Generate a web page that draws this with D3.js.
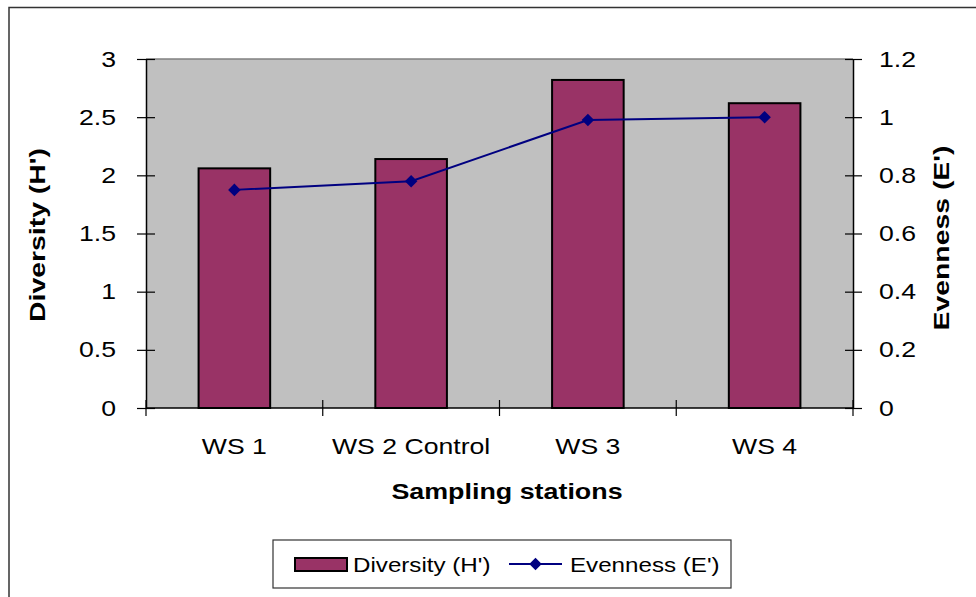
<!DOCTYPE html>
<html>
<head>
<meta charset="utf-8">
<script src="https://cdn.jsdelivr.net/npm/d3@7"></script>
<style>
  html, body { margin: 0; padding: 0; background: #fff; }
  svg { display: block; font-family: "Liberation Sans", Arial, sans-serif; }
</style>
</head>
<body>
<svg id="chart" width="976" height="597"></svg>
<script>
// Sampling stations and their diversity / evenness indices
const stations = ["WS 1", "WS 2 Control", "WS 3", "WS 4"];
const diversity = [2.06, 2.14, 2.82, 2.62];
const evenness = [0.75, 0.78, 0.99, 1.0];
const leftTicks = [0, 0.5, 1, 1.5, 2, 2.5, 3];
const rightTicks = [0, 0.2, 0.4, 0.6, 0.8, 1, 1.2];

const svg = d3.select("#chart");
const plot = { left: 146, right: 853, top: 59, bottom: 408 };

// Widen a text selection horizontally by a factor, keeping its anchor
function widen(sel, factor) {
  sel.each(function () {
    const len = this.getComputedTextLength();
    d3.select(this)
      .attr("textLength", len * factor)
      .attr("lengthAdjust", "spacingAndGlyphs");
  });
}

// Outer chart frame (runs past the right and bottom edges)
svg.append("rect")
  .attr("x", 9).attr("y", 7.5)
  .attr("width", 1000).attr("height", 700)
  .attr("fill", "#fff")
  .attr("stroke", "#333").attr("stroke-width", 1.5);

const x = d3.scaleBand().domain(stations).range([plot.left, plot.right]);
const yL = d3.scaleLinear().domain([0, 3]).range([plot.bottom, plot.top]);
const yR = d3.scaleLinear().domain([0, 1.2]).range([plot.bottom, plot.top]);

// Plot area background
svg.append("rect")
  .attr("x", plot.left).attr("y", plot.top)
  .attr("width", plot.right - plot.left).attr("height", plot.bottom - plot.top)
  .attr("fill", "#c0c0c0");
svg.append("line")
  .attr("x1", plot.left).attr("x2", plot.right)
  .attr("y1", plot.top).attr("y2", plot.top)
  .attr("stroke", "#808080").attr("stroke-width", 1.5);

// Bars
const barW = x.bandwidth() * 0.405;
svg.append("g").selectAll("rect")
  .data(stations)
  .join("rect")
  .attr("x", d => x(d) + x.bandwidth() / 2 - barW / 2)
  .attr("y", (d, i) => yL(diversity[i]))
  .attr("width", barW)
  .attr("height", (d, i) => yL(0) - yL(diversity[i]))
  .attr("fill", "#993366")
  .attr("stroke", "#000").attr("stroke-width", 2);

// Evenness line with diamond markers
const lineGen = d3.line()
  .x((d, i) => x(stations[i]) + x.bandwidth() / 2)
  .y(d => yR(d));
svg.append("path")
  .datum(evenness)
  .attr("d", lineGen)
  .attr("fill", "none")
  .attr("stroke", "#000080").attr("stroke-width", 2);
svg.append("g").selectAll("path")
  .data(evenness)
  .join("path")
  .attr("d", d3.symbol(d3.symbolDiamond2, 100))
  .attr("transform", (d, i) => `translate(${x(stations[i]) + x.bandwidth() / 2},${yR(d)})`)
  .attr("fill", "#000080");

// Axes
const tickStyle = g => {
  g.select(".domain").attr("stroke", "#000").attr("stroke-width", 1.5);
  g.selectAll(".tick line").attr("stroke", "#000").attr("stroke-width", 1.2);
  g.selectAll(".tick text").attr("fill", "#000").attr("font-size", 22)
    .attr("font-family", "'Liberation Sans', Arial, sans-serif");
};

const axL = svg.append("g")
  .attr("transform", `translate(${plot.left},0)`)
  .call(d3.axisLeft(yL).tickValues(leftTicks).tickSize(9).tickPadding(21).tickSizeOuter(0)
    .tickFormat(d3.format("")))
  .call(tickStyle);
axL.selectAll(".tick line").attr("x2", 9).attr("x1", -9);
widen(axL.selectAll(".tick text"), 1.21);

const axR = svg.append("g")
  .attr("transform", `translate(${plot.right},0)`)
  .call(d3.axisRight(yR).tickValues(rightTicks).tickSize(9).tickPadding(17).tickSizeOuter(0)
    .tickFormat(d => d === 0 ? "0" : d3.format("")(+d.toFixed(1))))
  .call(tickStyle);
axR.selectAll(".tick line").attr("x1", -8).attr("x2", 9);
widen(axR.selectAll(".tick text"), 1.21);

// Category axis: ticks sit on band boundaries
const axB = svg.append("g")
  .attr("transform", `translate(0,${plot.bottom})`)
  .call(d3.axisBottom(x).tickSize(0).tickPadding(30).tickSizeOuter(0))
  .call(tickStyle);
axB.select(".domain").attr("d", `M${plot.left},0H${plot.right}`);
widen(axB.selectAll(".tick text"), 1.21);
const bounds = stations.map(s => x(s)).concat([x(stations[stations.length - 1]) + x.bandwidth()]);
axB.selectAll(".bound")
  .data(bounds)
  .join("line")
  .attr("class", "bound")
  .attr("x1", d => d).attr("x2", d => d)
  .attr("y1", -8).attr("y2", 8)
  .attr("stroke", "#000").attr("stroke-width", 1.2);

// Axis titles
const tL = svg.append("text")
  .attr("transform", "translate(45,235) rotate(-90)")
  .attr("text-anchor", "middle")
  .attr("font-size", 22).attr("font-weight", "bold")
  .text("Diversity (H')");
const tR = svg.append("text")
  .attr("transform", "translate(949,238) rotate(-90)")
  .attr("text-anchor", "middle")
  .attr("font-size", 22).attr("font-weight", "bold")
  .text("Evenness (E')");
const tB = svg.append("text")
  .attr("x", 507).attr("y", 499)
  .attr("text-anchor", "middle")
  .attr("font-size", 22).attr("font-weight", "bold")
  .text("Sampling stations");
widen(tL, 1.29);
widen(tR, 1.29);
widen(tB, 1.22);

// Legend
const lg = svg.append("g");
lg.append("rect")
  .attr("x", 273).attr("y", 540).attr("width", 458).attr("height", 48)
  .attr("fill", "#fff").attr("stroke", "#333").attr("stroke-width", 1.2);
lg.append("rect")
  .attr("x", 295).attr("y", 558).attr("width", 52).attr("height", 13)
  .attr("fill", "#993366").attr("stroke", "#000").attr("stroke-width", 2);
const l1 = lg.append("text")
  .attr("x", 353).attr("y", 572)
  .attr("font-size", 21).text("Diversity (H')");
lg.append("line")
  .attr("x1", 509).attr("x2", 562).attr("y1", 564).attr("y2", 564)
  .attr("stroke", "#000080").attr("stroke-width", 2);
lg.append("path")
  .attr("d", d3.symbol(d3.symbolDiamond2, 100))
  .attr("transform", "translate(535.5,564)")
  .attr("fill", "#000080");
const l2 = lg.append("text")
  .attr("x", 570).attr("y", 572)
  .attr("font-size", 21).text("Evenness (E')");
widen(l1, 1.15);
widen(l2, 1.15);
</script>
</body>
</html>
